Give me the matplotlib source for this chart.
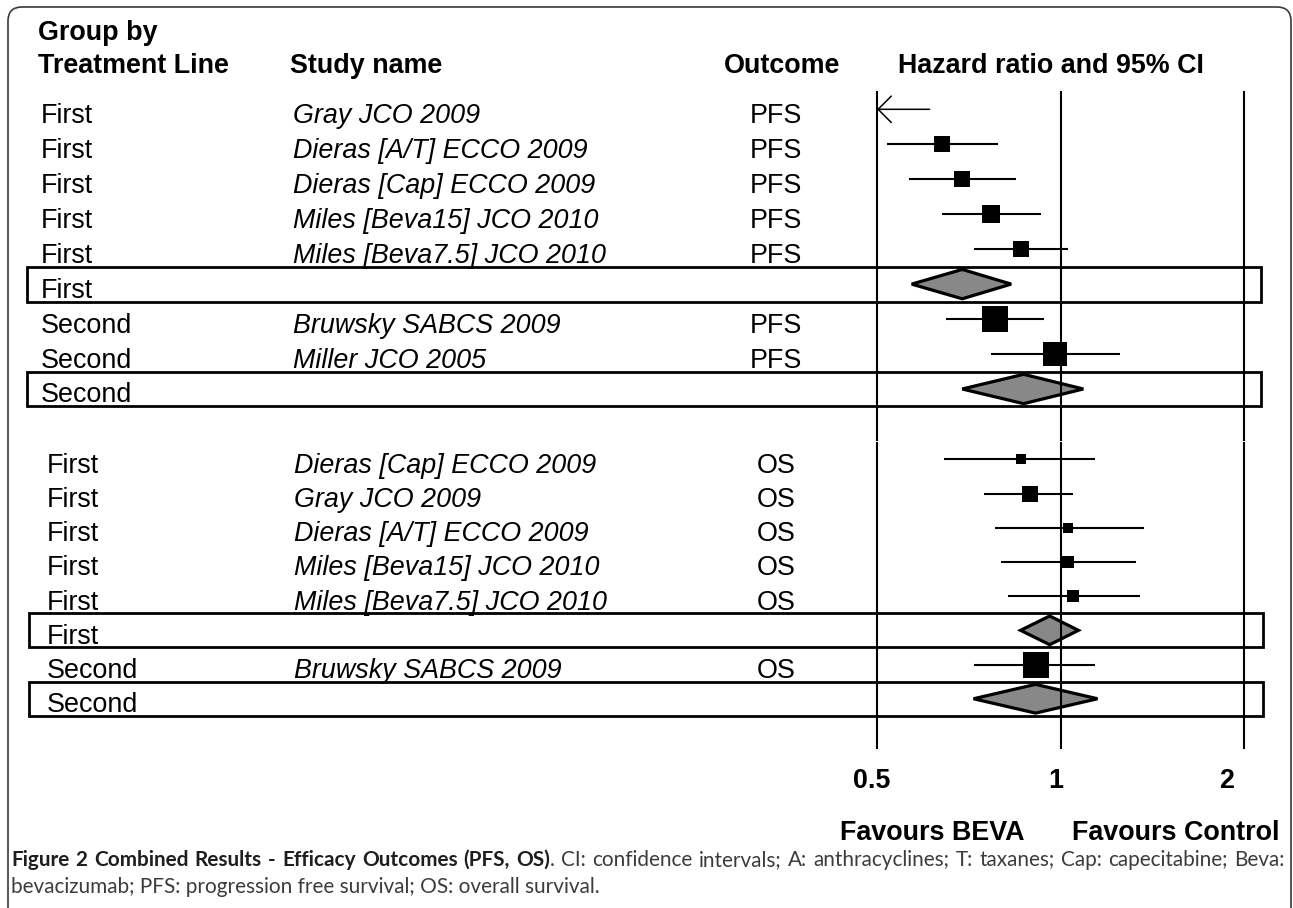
import matplotlib
matplotlib.use('Agg')
import matplotlib.pyplot as plt
import matplotlib.transforms as mtransforms
from matplotlib import font_manager
from matplotlib.patches import Rectangle, FancyBboxPatch
import numpy as np

W, H = 1293, 908
plt.rcParams['font.family'] = ['Liberation Sans', 'DejaVu Sans']

# ---- PFS block (hazard ratio, 95% CI, relative weight) ----
pfs_group = ['First', 'First', 'First', 'First', 'First', 'First',
             'Second', 'Second', 'Second']
pfs_study = ['Gray JCO 2009', 'Dieras [A/T] ECCO 2009', 'Dieras [Cap] ECCO 2009',
             'Miles [Beva15] JCO 2010', 'Miles [Beva7.5] JCO 2010', '',
             'Bruwsky SABCS 2009', 'Miller JCO 2005', '']
pfs_outcome = ['PFS', 'PFS', 'PFS', 'PFS', 'PFS', '', 'PFS', 'PFS', '']
pfs_hr = [0.48, 0.64, 0.69, 0.77, 0.86, 0.69, 0.78, 0.98, 0.87]
pfs_lo = [0.39, 0.52, 0.565, 0.64, 0.72, 0.57, 0.65, 0.77, 0.69]
pfs_hi = [0.61, 0.79, 0.845, 0.93, 1.03, 0.83, 0.94, 1.25, 1.09]
pfs_weight = [30, 35, 37, 40, 37, 0, 98, 79, 0]

# ---- OS block ----
os_group = ['First', 'First', 'First', 'First', 'First', 'First', 'Second', 'Second']
os_study = ['Dieras [Cap] ECCO 2009', 'Gray JCO 2009', 'Dieras [A/T] ECCO 2009',
            'Miles [Beva15] JCO 2010', 'Miles [Beva7.5] JCO 2010', '',
            'Bruwsky SABCS 2009', '']
os_outcome = ['OS', 'OS', 'OS', 'OS', 'OS', '', 'OS', '']
os_hr = [0.86, 0.89, 1.03, 1.03, 1.05, 0.96, 0.91, 0.91]
os_lo = [0.645, 0.75, 0.78, 0.80, 0.82, 0.86, 0.72, 0.72]
os_hi = [1.14, 1.05, 1.37, 1.33, 1.35, 1.07, 1.14, 1.15]
os_weight = [12, 38, 12, 17, 19, 0, 95, 0]

ticks = [0.5, 1, 2]
tick_labels = ['0.5', '1', '2']

FS = 19.4

fig = plt.figure(figsize=(W / 100, H / 100), dpi=100)
bg = fig.add_axes([0, 0, 1, 1], zorder=0)
bg.set_xlim(0, W)
bg.set_ylim(H, 0)
bg.axis('off')


def px_axes(x0, y0, x1, y1):
    return fig.add_axes([x0 / W, 1 - y1 / H, (x1 - x0) / W, (y1 - y0) / H], zorder=1)


def forest(ax, ylim, group, study, outcome, hr, lo, hi, weight, col_x, box_x):
    ax.set_xscale('log', base=2)
    ax.set_xlim(0.5, 2)
    ax.set_ylim(*ylim)
    ax.axis('off')
    ax.patch.set_alpha(0)
    for v in ticks:
        ax.axvline(v, color='black', lw=1.5, clip_on=False, zorder=4.5)
    tr = mtransforms.blended_transform_factory(fig.transFigure, ax.transData)
    tr_txt = mtransforms.offset_copy(tr, fig=fig, y=-13.5 * 0.72, units='points')
    for i in range(len(hr)):
        if study[i] == '':
            ax.add_patch(Rectangle((box_x[0] / W, i - 0.5), (box_x[1] - box_x[0]) / W, 1,
                                   transform=tr, fill=False, lw=2, ec='black',
                                   clip_on=False, zorder=2))
            h = 0.42
            ax.fill([lo[i], hr[i], hi[i], hr[i]], [i, i - h, i, i + h],
                    fc='#888888', ec='black', lw=2.3, zorder=4, joinstyle='miter')
        elif hr[i] < 0.5:
            ax.annotate('', xy=(0.5, i), xytext=(hi[i], i),
                        arrowprops=dict(arrowstyle='->,head_length=0.95,head_width=0.95',
                                        lw=1.1, color='black', shrinkA=0, shrinkB=0,
                                        mutation_scale=10))
        else:
            ax.plot([max(lo[i], 0.5), hi[i]], [i, i], color='black', lw=1.5,
                    solid_capstyle='butt', zorder=3)
            ax.plot(hr[i], i, marker='s', ms=1.944 * np.sqrt(weight[i]),
                    color='black', mew=0, zorder=5)
        ax.text(col_x[0] / W, i, group[i], transform=tr_txt, fontsize=FS, va='baseline')
        ax.text(col_x[1] / W, i, study[i], transform=tr_txt, fontsize=FS,
                va='baseline', style='italic')
        ax.text(col_x[2] / W, i, outcome[i], transform=tr_txt, fontsize=FS,
                va='baseline', ha='center')


ax1 = px_axes(877, 92, 1244, 440)
forest(ax1, (9.459, -0.495), pfs_group, pfs_study, pfs_outcome,
       pfs_hr, pfs_lo, pfs_hi, pfs_weight, (41, 293, 776), (27, 1261))

ax2 = px_axes(877, 443, 1244, 748)
forest(ax2, (8.44, -0.477), os_group, os_study, os_outcome,
       os_hr, os_lo, os_hi, os_weight, (47, 294, 776), (29, 1263))

# tick labels under the bottom block
tr_tick = mtransforms.blended_transform_factory(ax2.transData, fig.transFigure)
for v, lab, dx in zip(ticks, tick_labels, [-5.5, -4.5, -17.5]):
    t = mtransforms.offset_copy(tr_tick, fig=fig, x=dx * 0.72, units='points')
    ax2.text(v, 1 - 788 / H, lab, transform=t, fontsize=FS, weight='bold',
             ha='center', va='baseline', clip_on=False)

# headers
bg.text(38, 40, 'Group by', fontsize=FS, weight='bold', va='baseline')
bg.text(38, 73, 'Treatment Line', fontsize=FS, weight='bold', va='baseline')
bg.text(290, 73, 'Study name', fontsize=FS, weight='bold', va='baseline')
bg.text(782, 73, 'Outcome', fontsize=FS, weight='bold', va='baseline', ha='center')
bg.text(1051, 73, 'Hazard ratio and 95% CI', fontsize=FS, weight='bold',
        va='baseline', ha='center')
bg.text(1025, 840, 'Favours BEVA', fontsize=FS, weight='bold', va='baseline', ha='right')
bg.text(1072, 840, 'Favours Control', fontsize=FS, weight='bold', va='baseline')

# frame
bg.add_patch(FancyBboxPatch((8, 7), 1283, H + 40,
                            boxstyle='round,pad=0,rounding_size=14',
                            fill=False, ec='#3a3a3a', lw=1.2, clip_on=False))

# caption
renderer = fig.canvas.get_renderer()
installed = {f.name for f in font_manager.fontManager.ttflist}
CAP_FONT = 'Lato' if 'Lato' in installed else 'DejaVu Sans'
bold_part = 'Figure 2 Combined Results - Efficacy Outcomes (PFS, OS)'
reg_part = '. CI: confidence intervals; A: anthracyclines; T: taxanes; Cap: capecitabine; Beva:'
line2 = 'bevacizumab; PFS: progression free survival; OS: overall survival.'


def text_w(s, **kw):
    t = bg.text(0, 0, s, **kw)
    w = t.get_window_extent(renderer).width
    t.remove()
    return w


wb = text_w(bold_part, fontsize=10, family=CAP_FONT, weight='bold')
wr = text_w(reg_part, fontsize=10, family=CAP_FONT)
cap_fs = min(10 * 545 / wb, 10 * 1255 / (wb + wr))
bold_c, reg_c = '#1e1e1e', '#3c3c3c'

tokens = [[(w, 'bold')] for w in bold_part.split(' ')[:-1]]
tokens.append([('OS)', 'bold'), ('.', 'normal')])
tokens += [[(w, 'normal')] for w in reg_part[2:].split(' ')]

widths = [[text_w(s, fontsize=cap_fs, family=CAP_FONT, weight=wt) for s, wt in tok]
          for tok in tokens]
total = sum(sum(w) for w in widths)
gap = (1284 - 11 - total) / (len(tokens) - 1)
x = 11
for tok, ws in zip(tokens, widths):
    for (s, wt), w in zip(tok, ws):
        bg.text(x, 866, s, fontsize=cap_fs, family=CAP_FONT, weight=wt,
                color=bold_c if wt == 'bold' else reg_c, va='baseline')
        x += w
    x += gap
bg.text(11, 893, line2, fontsize=cap_fs, family=CAP_FONT, color=reg_c, va='baseline')

fig.savefig('out.png', dpi=100)
